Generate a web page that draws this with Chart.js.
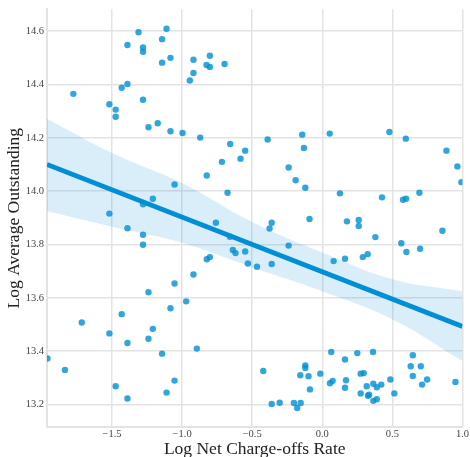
<!DOCTYPE html>
<html>
<head>
<meta charset="utf-8">
<script src="https://cdn.jsdelivr.net/npm/chart.js@4/dist/chart.umd.min.js"></script>
<style>
  body { margin: 0; background: #fff; }
  canvas { display: block; }
</style>
</head>
<body>
<canvas id="chart" width="470" height="457"></canvas>
<script>
// scatter points (log net charge-offs rate, log average outstanding)
const x_vals = [
  -1.776, -1.311, -1.111, -1.143, -1.390, -1.279, -1.279, -1.083, -1.143, -0.919,
  -0.802, -0.826, -0.802, -0.697, -0.919, -0.945, -1.390, -1.431, -1.279, -1.519,
  -1.474, -1.474, -1.240, -1.174, -1.083, -0.997, -0.871, -0.657, -0.583, -0.716,
  -0.824, -1.054, -0.676, -1.209, -1.279, -1.519, -0.759, -1.390, -0.550, -0.390,
  -0.143, -0.131, 0.053, -0.240, -0.190, -0.121, 0.126, 0.479, 0.596, 0.426,
  0.576, 0.598, 0.693, 0.886, 0.964, 0.993, -0.361, -0.376, -0.091, 0.176,
  0.260, 0.260, 0.857, 0.379, 0.564, 0.600, 0.698, 0.324, 0.289, 0.162,
  0.081, -0.240, -0.638, -0.619, -0.550, -0.531, -0.466, -0.361, -0.659,
  0.064, 0.162, 0.250, 0.362, 0.646, 0.631, 0.703, 0.646, 0.748, 0.712,
  0.950, 0.486, 0.421, 0.364, 0.389, 0.317, 0.274, 0.296, 0.169, 0.162,
  0.074, 0.055, -0.014, -0.098, -0.121, -0.121, -0.157, -0.088, -0.421, -0.361,
  -0.304, -0.202, -0.179, -0.154, 0.274, 0.326, 0.334, 0.364, 0.389, 0.514,
  -1.279, -1.279, -0.824, -0.802, -0.919, -1.054, -1.240, -0.971, -1.083, -1.431,
  -1.716, -1.209, -1.519, -1.240, -1.390, -0.895, -1.143, -1.961, -1.836, -1.474,
  -1.054, -1.111, -1.390
]
const y_vals = [
  14.365, 14.596, 14.609, 14.570, 14.548, 14.539, 14.523, 14.500, 14.482, 14.493,
  14.508, 14.473, 14.466, 14.477, 14.443, 14.415, 14.402, 14.388, 14.343, 14.326,
  14.306, 14.279, 14.240, 14.255, 14.225, 14.218, 14.201, 14.177, 14.122, 14.110,
  14.059, 14.025, 13.994, 13.972, 13.951, 13.916, 13.882, 13.861, 14.152, 14.194,
  14.212, 14.162, 14.216, 14.089, 14.041, 14.013, 13.992, 14.222, 14.197, 13.977,
  13.968, 13.972, 13.994, 14.152, 14.093, 14.034, 13.882, 13.860, 13.896, 13.887,
  13.892, 13.870, 13.852, 13.828, 13.805, 13.772, 13.784, 13.764, 13.753, 13.747,
  13.738, 13.796, 13.780, 13.768, 13.774, 13.729, 13.717, 13.727, 13.829,
  13.397, 13.369, 13.393, 13.397, 13.385, 13.344, 13.344, 13.307, 13.294, 13.275,
  13.285, 13.294, 13.275, 13.278, 13.265, 13.269, 13.316, 13.318, 13.291, 13.263,
  13.289, 13.280, 13.316, 13.306, 13.347, 13.337, 13.310, 13.257, 13.326, 13.202,
  13.207, 13.206, 13.187, 13.206, 13.242, 13.233, 13.237, 13.214, 13.220, 13.242,
  13.837, 13.799, 13.745, 13.753, 13.688, 13.654, 13.621, 13.587, 13.561, 13.539,
  13.508, 13.484, 13.467, 13.447, 13.431, 13.410, 13.391, 13.373, 13.330, 13.269,
  13.290, 13.245, 13.223
]

// regression line ends and the confidence band edges
const fit_x = [-1.964, 1.0]
const fit_y = [14.100, 13.493]
const band_x = [-1.964, -1.5, -1.0, -0.5, 0.0, 0.5, 1.0]
const band_upper = [14.272, 14.143, 14.030, 13.885, 13.770, 13.670, 13.625]
const band_lower = [13.926, 13.867, 13.807, 13.715, 13.625, 13.520, 13.363]

const x_ticks = [-1.5, -1.0, -0.5, 0.0, 0.5, 1.0]
const y_ticks = [13.2, 13.4, 13.6, 13.8, 14.0, 14.2, 14.4, 14.6]
const x_range = [-1.964, 1.0]
const y_range = [13.116, 14.682]

const blue = 'rgb(0,143,213)'
const grid_color = '#e3e3e3'
const serif = "'Liberation Serif', 'DejaVu Serif', serif"

function pairs(xs, ys) {
    let out = []
    for (let i = 0; i < xs.length; i++) {
        out.push({x: xs[i], y: ys[i]})
    }
    return out
}

function fmt(v) {
    return v.toFixed(1).replace('-', '\u2212')
}

const config = {
    type: 'scatter',
    data: {
        datasets: [
            {
                label: 'points',
                data: pairs(x_vals, y_vals),
                backgroundColor: 'rgba(0,143,213,0.8)',
                borderWidth: 0,
                pointRadius: 3.2,
                clip: 0,
                order: 3
            },
            {
                label: 'band_lower',
                data: pairs(band_x, band_lower),
                showLine: true,
                borderWidth: 0,
                borderColor: 'rgba(0,0,0,0)',
                pointRadius: 0,
                tension: 0.4,
                fill: false,
                order: 2
            },
            {
                label: 'band_upper',
                data: pairs(band_x, band_upper),
                showLine: true,
                borderWidth: 0,
                borderColor: 'rgba(0,0,0,0)',
                backgroundColor: 'rgba(0,143,213,0.15)',
                pointRadius: 0,
                tension: 0.4,
                fill: '-1',
                order: 2
            },
            {
                label: 'fit',
                data: pairs(fit_x, fit_y),
                showLine: true,
                borderColor: blue,
                borderWidth: 4.8,
                pointRadius: 0,
                fill: false,
                order: 1
            }
        ]
    },
    options: {
        responsive: false,
        animation: false,
        events: [],
        layout: {padding: {top: 7, right: 7, left: 0, bottom: 0}},
        plugins: {
            legend: {display: false},
            tooltip: {enabled: false}
        },
        scales: {
            x: {
                type: 'linear',
                min: x_range[0],
                max: x_range[1],
                afterBuildTicks: scale => { scale.ticks = x_ticks.map(v => ({value: v})) },
                afterFit: scale => { scale.height = 30 },
                grid: {color: grid_color, lineWidth: 1.5, drawTicks: false},
                border: {color: grid_color, width: 2},
                ticks: {
                    callback: v => fmt(v),
                    color: '#444',
                    padding: 1,
                    maxRotation: 0,
                    font: {family: serif, size: 10.5}
                },
                title: {
                    display: true,
                    text: 'Log Net Charge-offs Rate',
                    color: '#222',
                    font: {family: serif, size: 17.5},
                    padding: {top: 0, bottom: -3}
                }
            },
            y: {
                type: 'linear',
                min: y_range[0],
                max: y_range[1],
                afterBuildTicks: scale => { scale.ticks = y_ticks.map(v => ({value: v})) },
                afterFit: scale => { scale.width = 47 },
                grid: {color: grid_color, lineWidth: 1.5, drawTicks: false},
                border: {color: grid_color, width: 2},
                ticks: {
                    callback: v => fmt(v),
                    color: '#444',
                    padding: 3,
                    font: {family: serif, size: 10.5}
                },
                title: {
                    display: true,
                    text: 'Log Average Outstanding',
                    color: '#222',
                    font: {family: serif, size: 17.5},
                    padding: {top: 4, bottom: 0}
                }
            }
        }
    }
}

new Chart(document.getElementById('chart'), config)
</script>
</body>
</html>
